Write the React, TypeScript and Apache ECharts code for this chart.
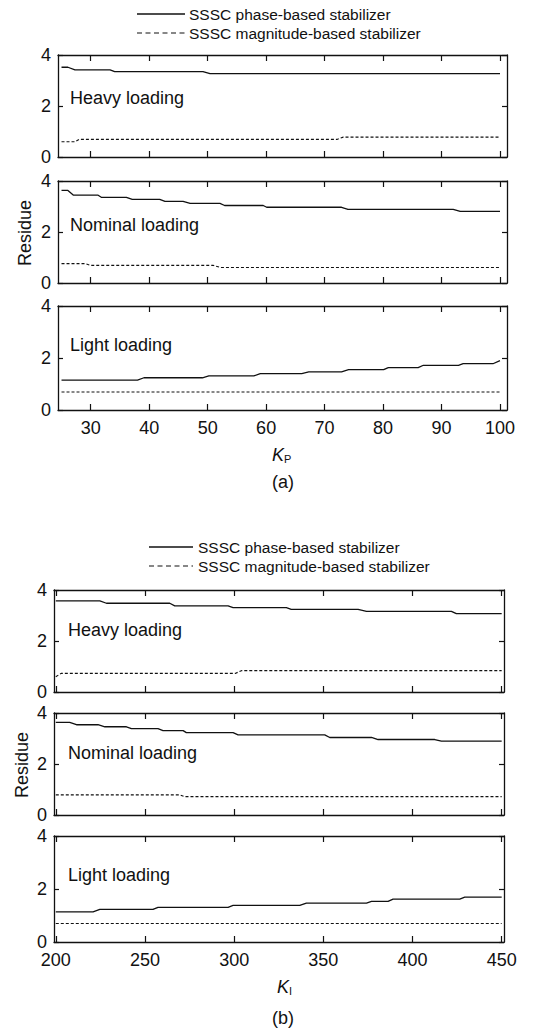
import React, { useEffect, useRef } from "react";
import * as echarts from "echarts";

const legendNames = ["SSSC phase-based stabilizer", "SSSC magnitude-based stabilizer"];
const loadingLabels = ["Heavy loading", "Nominal loading", "Light loading"];
const yTicks = [0, 2, 4];
const kpTicks = [30, 40, 50, 60, 70, 80, 90, 100];
const kiTicks = [200, 250, 300, 350, 400, 450];

// (a) residue vs KP
const kpHeavyPhase = [[25, 3.52], [26.1, 3.52], [27.3, 3.42], [33.3, 3.42], [34.1, 3.35], [49.2, 3.35], [50.4, 3.27], [100, 3.27]];
const kpHeavyMag = [[25, 0.6], [27.3, 0.6], [28, 0.69], [72.1, 0.69], [73.2, 0.78], [100, 0.78]];
const kpNominalPhase = [[25, 3.63], [26.1, 3.63], [27, 3.45], [31.2, 3.45], [31.8, 3.36], [36.1, 3.36], [37.1, 3.28], [41.8, 3.28], [42.7, 3.2], [45.8, 3.2], [47, 3.12], [52.1, 3.12], [52.9, 3.04], [59.5, 3.04], [60.1, 2.97], [72.9, 2.97], [74, 2.89], [92, 2.89], [93.2, 2.81], [100, 2.81]];
const kpNominalMag = [[25, 0.76], [29, 0.76], [30, 0.69], [51, 0.69], [52.2, 0.61], [100, 0.61]];
const kpLightPhase = [[25, 1.15], [38, 1.15], [39.1, 1.24], [49.1, 1.24], [50.2, 1.31], [57.9, 1.31], [59, 1.4], [66.1, 1.4], [67.3, 1.47], [72.9, 1.47], [74.1, 1.55], [80.1, 1.55], [80.9, 1.63], [86, 1.63], [86.9, 1.72], [92.9, 1.72], [93.7, 1.78], [98.8, 1.78], [100, 1.9]];
const kpLightMag = [[25, 0.69], [100, 0.69]];

// (b) residue vs KI
const kiHeavyPhase = [[200, 3.57], [224.7, 3.57], [228.4, 3.48], [263.9, 3.48], [266.7, 3.38], [296.6, 3.38], [299.4, 3.31], [329.3, 3.31], [332, 3.24], [369.5, 3.24], [374.2, 3.16], [421.8, 3.16], [424.6, 3.07], [450, 3.07]];
const kiHeavyMag = [[200, 0.6], [203, 0.73], [300.6, 0.73], [304.4, 0.84], [450, 0.84]];
const kiNominalPhase = [[200, 3.63], [207.8, 3.63], [211.6, 3.54], [223.7, 3.54], [227.5, 3.46], [239.6, 3.46], [242.4, 3.39], [257.3, 3.39], [260.1, 3.31], [271.4, 3.31], [273.2, 3.23], [299.4, 3.23], [302.2, 3.14], [350.8, 3.14], [353.6, 3.04], [377, 3.04], [380.7, 2.96], [412.5, 2.96], [416.2, 2.9], [450, 2.9]];
const kiNominalMag = [[200, 0.79], [269.5, 0.79], [272.3, 0.72], [450, 0.72]];
const kiLightPhase = [[200, 1.14], [220.9, 1.14], [224.7, 1.23], [254.5, 1.23], [257.3, 1.31], [296.6, 1.31], [299.4, 1.38], [336.8, 1.38], [340.5, 1.47], [374.2, 1.47], [377, 1.53], [386.3, 1.53], [389.1, 1.62], [426.5, 1.62], [429.3, 1.69], [450, 1.69]];
const kiLightMag = [[200, 0.7], [450, 0.7]];

const FONT = "'Liberation Sans', Arial, Helvetica, sans-serif";
const INK = "#111";

type Panel = {
  left: number; width: number; top: number; height: number;
  min: number; max: number; ticks: number[];
  phase: number[][]; mag: number[][]; label: string; labelY: number; labelX: number;
  showX: boolean;
};

const panels: Panel[] = [
  { left: 58, width: 449, top: 55, height: 102, min: 24.4, max: 101.2, ticks: kpTicks, phase: kpHeavyPhase, mag: kpHeavyMag, label: loadingLabels[0], labelX: 70, labelY: 98, showX: false },
  { left: 58, width: 449, top: 181, height: 102, min: 24.4, max: 101.2, ticks: kpTicks, phase: kpNominalPhase, mag: kpNominalMag, label: loadingLabels[1], labelX: 70, labelY: 225, showX: false },
  { left: 58, width: 449, top: 306, height: 104, min: 24.4, max: 101.2, ticks: kpTicks, phase: kpLightPhase, mag: kpLightMag, label: loadingLabels[2], labelX: 70, labelY: 345, showX: true },
  { left: 54, width: 450, top: 590, height: 102, min: 199, max: 451.3, ticks: kiTicks, phase: kiHeavyPhase, mag: kiHeavyMag, label: loadingLabels[0], labelX: 68, labelY: 630, showX: false },
  { left: 54, width: 450, top: 713, height: 102, min: 199, max: 451.3, ticks: kiTicks, phase: kiNominalPhase, mag: kiNominalMag, label: loadingLabels[1], labelX: 68, labelY: 753, showX: false },
  { left: 54, width: 450, top: 836, height: 106, min: 199, max: 451.3, ticks: kiTicks, phase: kiLightPhase, mag: kiLightMag, label: loadingLabels[2], labelX: 68, labelY: 875, showX: true },
];

function buildOption() {
  const grid: any[] = [];
  const xAxis: any[] = [];
  const yAxis: any[] = [];
  const series: any[] = [];
  const graphic: any[] = [];
  const axisLine = { show: true, onZero: false, lineStyle: { color: INK, width: 1.3 } };

  panels.forEach((p, i) => {
    grid.push({ left: p.left, top: p.top, width: p.width, height: p.height, containLabel: false });
    xAxis.push({
      type: "value", gridIndex: i, position: "bottom", min: p.min, max: p.max,
      axisLine, splitLine: { show: false },
      axisTick: { show: true, inside: true, length: 6, customValues: p.ticks, lineStyle: { color: INK, width: 1.2 } },
      axisLabel: { show: p.showX, customValues: p.ticks, margin: 9, color: INK, fontSize: 18, fontFamily: FONT },
    });
    xAxis.push({
      type: "value", gridIndex: i, position: "top", min: p.min, max: p.max,
      axisLine, splitLine: { show: false },
      axisTick: { show: true, inside: true, length: 6, customValues: p.ticks, lineStyle: { color: INK, width: 1.2 } },
      axisLabel: { show: false },
    });
    yAxis.push({
      type: "value", gridIndex: i, position: "left", min: 0, max: 4, interval: 2,
      axisLine, splitLine: { show: false },
      axisTick: { show: true, inside: true, length: 5, lineStyle: { color: INK, width: 1.2 } },
      axisLabel: { show: true, margin: 7, color: INK, fontSize: 18, fontFamily: FONT, customValues: yTicks },
    });
    yAxis.push({
      type: "value", gridIndex: i, position: "right", min: 0, max: 4, interval: 2,
      axisLine, splitLine: { show: false },
      axisTick: { show: true, inside: true, length: 5, lineStyle: { color: INK, width: 1.2 } },
      axisLabel: { show: false },
    });
    series.push({
      type: "line", name: legendNames[0], xAxisIndex: 2 * i, yAxisIndex: 2 * i, data: p.phase,
      symbol: "none", silent: true, lineStyle: { color: INK, width: 1.3, type: "solid" },
    });
    series.push({
      type: "line", name: legendNames[1], xAxisIndex: 2 * i, yAxisIndex: 2 * i, data: p.mag,
      symbol: "none", silent: true, lineStyle: { color: INK, width: 1.1, type: [3, 2] },
    });
    graphic.push({
      type: "text", x: p.labelX, y: p.labelY,
      style: { text: p.label, fill: INK, fontSize: 18, fontFamily: FONT, align: "left", verticalAlign: "middle" },
    });
  });

  const legendBlocks = [
    { x1: 137, x2: 185, tx: 189, y1: 14, y2: 33 },
    { x1: 149, x2: 193, tx: 198, y1: 547, y2: 566 },
  ];
  legendBlocks.forEach((b) => {
    graphic.push({ type: "line", shape: { x1: b.x1, y1: b.y1, x2: b.x2, y2: b.y1 }, style: { stroke: INK, lineWidth: 1.3 } });
    graphic.push({ type: "line", shape: { x1: b.x1, y1: b.y2, x2: b.x2, y2: b.y2 }, style: { stroke: INK, lineWidth: 1.2, lineDash: [5, 3.5] } });
    graphic.push({ type: "text", x: b.tx, y: b.y1, style: { text: legendNames[0], fill: INK, fontSize: 15.5, fontFamily: FONT, align: "left", verticalAlign: "middle" } });
    graphic.push({ type: "text", x: b.tx, y: b.y2, style: { text: legendNames[1], fill: INK, fontSize: 15.5, fontFamily: FONT, align: "left", verticalAlign: "middle" } });
  });

  const axisTitles = [
    { rx: 25, ry: 233, kx: 278, ky: 455, sub: "P", cap: "(a)", cy: 482 },
    { rx: 22, ry: 765, kx: 283, ky: 987, sub: "I", cap: "(b)", cy: 1018 },
  ];
  axisTitles.forEach((t) => {
    graphic.push({ type: "text", x: t.rx, y: t.ry, rotation: Math.PI / 2, style: { text: "Residue", fill: INK, fontSize: 18, fontFamily: FONT, align: "center", verticalAlign: "middle" } });
    graphic.push({ type: "text", x: t.kx, y: t.ky, style: { text: "K", fill: INK, fontSize: 18, fontStyle: "italic", fontFamily: FONT, align: "center", verticalAlign: "middle" } });
    graphic.push({ type: "text", x: t.kx + 6, y: t.ky + 4, style: { text: t.sub, fill: INK, fontSize: 11, fontFamily: FONT, align: "left", verticalAlign: "middle" } });
    graphic.push({ type: "text", x: 283, y: t.cy, style: { text: t.cap, fill: INK, fontSize: 18, fontFamily: FONT, align: "center", verticalAlign: "middle" } });
  });

  return { animation: false, backgroundColor: "#fff", grid, xAxis, yAxis, series, graphic };
}

export default function App() {
  const ref = useRef<HTMLDivElement>(null);
  useEffect(() => {
    document.body.style.margin = "0";
    const chart = echarts.init(ref.current!, undefined, { renderer: "svg" });
    chart.setOption(buildOption() as any);
    return () => chart.dispose();
  }, []);
  return <div ref={ref} style={{ width: 533, height: 1029 }} />;
}
